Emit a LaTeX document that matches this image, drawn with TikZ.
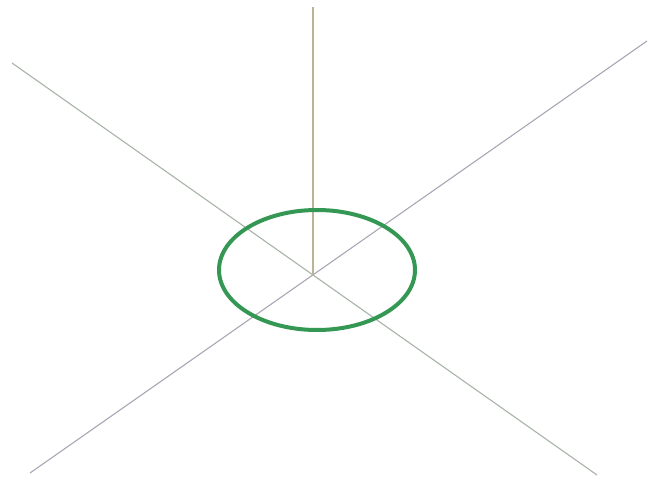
\documentclass[tikz,border=0pt]{standalone}
\definecolor{ringgreen}{RGB}{52,152,84}
\definecolor{axisolive}{RGB}{190,178,150}
\definecolor{axisgreen}{RGB}{168,180,168}
\definecolor{axispurple}{RGB}{172,166,180}
\tikzset{axisline/.style={line width=1.1pt}}
\begin{document}
\begin{tikzpicture}[x=1pt,y=-1pt]
\useasboundingbox[fill=white] (0,0) rectangle (651,479);
\coordinate (o) at (313,275);
\coordinate (top) at (313,7);
\coordinate (ul) at (12,63);
\coordinate (lr) at (597,475);
\coordinate (ur) at (647,41);
\coordinate (ll) at (30,473);
\coordinate (c) at (317,270);
\draw[axisline,axisgreen] (ul) -- (lr);
\draw[axisline,axispurple] (ur) -- (ll);
\draw[axisline,axisolive] (top) -- (o);
\draw[ringgreen,line width=4pt] (c) ellipse [x radius=98, y radius=60];
\end{tikzpicture}
\end{document}
